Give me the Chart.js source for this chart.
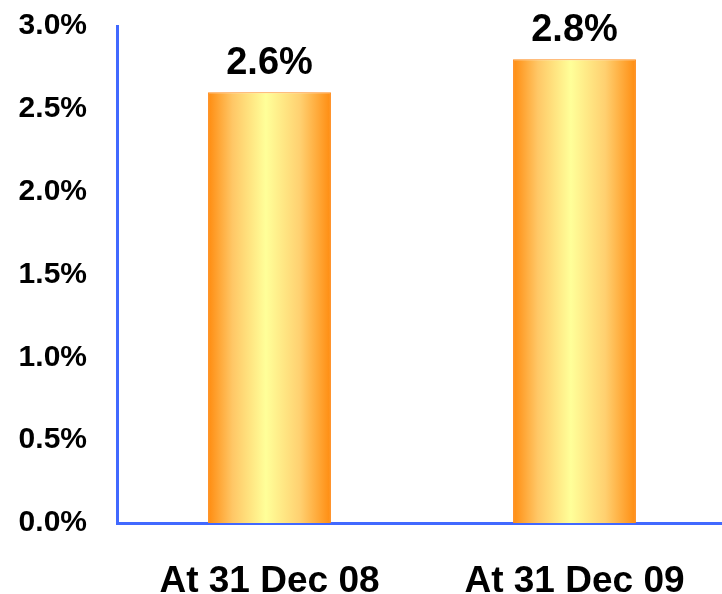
<!DOCTYPE html>
<html>
<head>
<meta charset="utf-8">
<script src="https://cdn.jsdelivr.net/npm/chart.js@4"></script>
<style>
    html, body { margin: 0; padding: 0; background: #fff; overflow: hidden; }
    #wrap { width: 722px; height: 594px; overflow: hidden; }
</style>
</head>
<body>
<!-- canvas runs a few px past the window so the plot area reaches past the right edge like the original -->
<div id="wrap"><canvas id="ratioChart" width="731" height="594"></canvas></div>
<script>
const categories = ["At 31 Dec 08", "At 31 Dec 09"]
const ratioValues = [2.6, 2.8]
const yTicks = [0, 0.5, 1.0, 1.5, 2.0, 2.5, 3.0]

const fontFamily = "'Liberation Sans', Arial, sans-serif"
const axisBlue = "#4169FF"

// horizontal orange -> pale yellow -> orange fill for each bar
function barGradient(ctx) {
    const chart = ctx.chart
    const xScale = chart.scales.x
    if (!chart.chartArea || !xScale) return "#FFB040"
    const center = xScale.getPixelForValue(ctx.dataIndex)
    const half = xScale.width / categories.length * 0.403 / 2
    const g = chart.ctx.createLinearGradient(center - half, 0, center + half, 0)
    g.addColorStop(0, "#FF8C10")
    g.addColorStop(0.2, "#FFC766")
    g.addColorStop(0.47, "#FFFF99")
    g.addColorStop(0.75, "#FFD070")
    g.addColorStop(1, "#FF8C10")
    return g
}

const valueLabels = {
    id: "valueLabels",
    afterDatasetsDraw(chart) {
        const c = chart.ctx
        const meta = chart.getDatasetMeta(0)
        c.save()
        c.font = "bold 38px " + fontFamily
        c.fillStyle = "#000"
        c.textAlign = "center"
        c.textBaseline = "alphabetic"
        meta.data.forEach((bar, i) => {
            c.fillText(ratioValues[i].toFixed(1) + "%", bar.x, bar.y - 18)
        })
        c.restore()
    }
}

new Chart(document.getElementById("ratioChart").getContext("2d"), {
    type: "bar",
    data: {
        labels: categories,
        datasets: [
            {
                data: ratioValues,
                backgroundColor: barGradient,
                borderColor: "#FF8A1A",
                borderWidth: 1,
                barPercentage: 0.403,
                categoryPercentage: 1
            }
        ]
    },
    options: {
        responsive: false,
        animation: false,
        layout: { padding: { top: 26, right: 4, left: 0, bottom: 0 } },
        plugins: {
            legend: { display: false },
            tooltip: { enabled: false }
        },
        scales: {
            x: {
                grid: { display: false, drawTicks: false },
                border: { display: true, color: axisBlue, width: 3 },
                ticks: {
                    padding: 37,
                    color: "#000",
                    font: { family: fontFamily, size: 37, weight: "bold" }
                },
                afterFit: s => {
                    s.height = 71
                    s.paddingLeft = 0
                    s.paddingRight = 0
                }
            },
            y: {
                min: 0,
                max: 3.0,
                grid: { display: false, drawTicks: false },
                border: { display: true, color: axisBlue, width: 3 },
                afterBuildTicks: s => { s.ticks = yTicks.map(v => ({ value: v })) },
                ticks: {
                    padding: 30,
                    color: "#000",
                    font: { family: fontFamily, size: 30, weight: "bold" },
                    callback: v => v.toFixed(1) + "%"
                },
                afterFit: s => {
                    s.width = 117
                    s.paddingTop = 0
                    s.paddingBottom = 0
                }
            }
        }
    },
    plugins: [valueLabels]
})
</script>
</body>
</html>
